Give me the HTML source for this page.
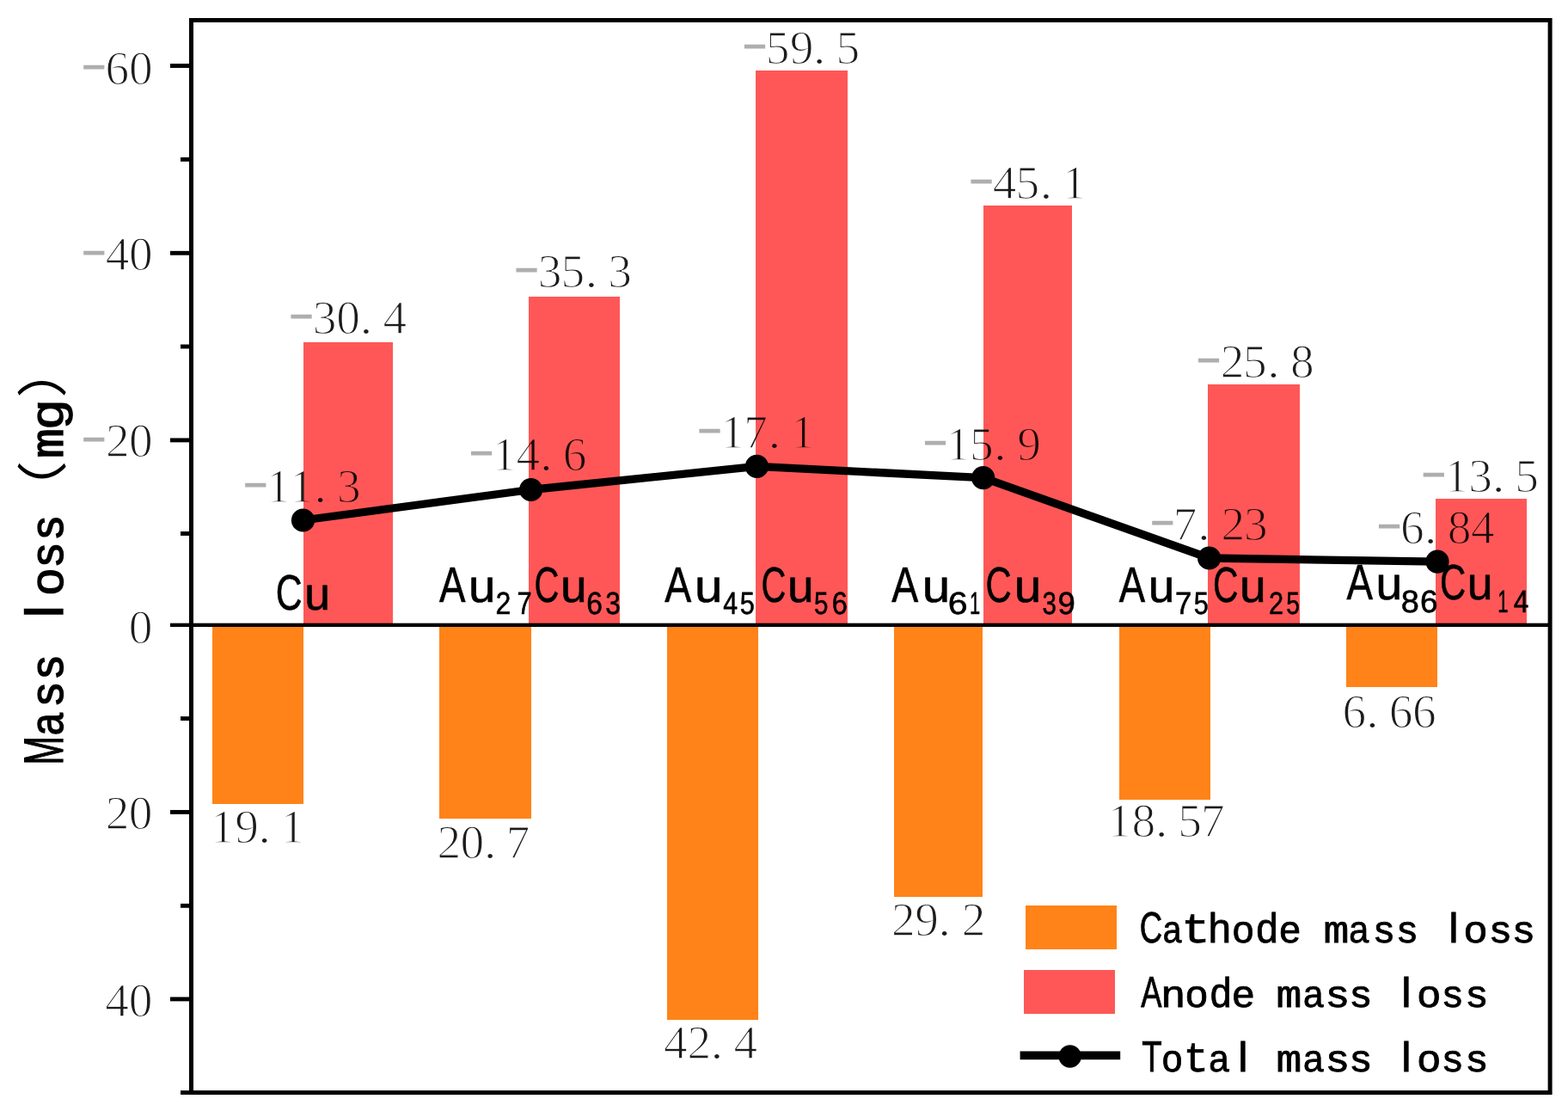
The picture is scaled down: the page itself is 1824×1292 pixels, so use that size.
<!DOCTYPE html>
<html lang="en">
<head>
<meta charset="utf-8">
<title>Mass loss</title>
<style>
html,body{margin:0;padding:0;background:#fff;}
body{width:1824px;height:1292px;overflow:hidden;}
svg{display:block;}
text{text-rendering:geometricPrecision;}
</style>
</head>
<body>
<svg width="1824" height="1292" viewBox="0 0 1824 1292">
<rect width="1824" height="1292" fill="#fff"/>
<g shape-rendering="crispEdges">
<rect x="247.1" y="728" width="106" height="206.8" fill="#FF8318"/>
<rect x="353.1" y="398.2" width="104" height="327.5" fill="#FF5757"/>
<rect x="511.3" y="728" width="106.2" height="223.5" fill="#FF8318"/>
<rect x="615.1" y="345" width="105.9" height="380.7" fill="#FF5757"/>
<rect x="775.9" y="728" width="106" height="458" fill="#FF8318"/>
<rect x="879.3" y="81.6" width="106.3" height="644.1" fill="#FF5757"/>
<rect x="1039.9" y="728" width="103.3" height="314.7" fill="#FF8318"/>
<rect x="1143.9" y="238.5" width="103.1" height="487.2" fill="#FF5757"/>
<rect x="1302" y="728" width="105.7" height="201.8" fill="#FF8318"/>
<rect x="1405" y="446.8" width="106.6" height="278.9" fill="#FF5757"/>
<rect x="1566" y="728" width="106" height="70.6" fill="#FF8318"/>
<rect x="1670" y="579.8" width="106" height="145.9" fill="#FF5757"/>
</g>
<g fill="#000">
<rect x="198" y="724.7" width="1605" height="4.3"/>
</g>
<rect x="222.5" y="23.5" width="1580.6" height="1247.1" fill="none" stroke="#000" stroke-width="5"/>
<g stroke="#000" stroke-width="4.9">
<line x1="198" y1="76.5" x2="221" y2="76.5"/>
<line x1="198" y1="294.3" x2="221" y2="294.3"/>
<line x1="198" y1="511.9" x2="221" y2="511.9"/>
<line x1="198" y1="944.4" x2="221" y2="944.4"/>
<line x1="198" y1="1161.9" x2="221" y2="1161.9"/>
<line x1="210" y1="185.4" x2="221" y2="185.4"/>
<line x1="210" y1="403" x2="221" y2="403"/>
<line x1="210" y1="620.5" x2="221" y2="620.5"/>
<line x1="210" y1="835.6" x2="221" y2="835.6"/>
<line x1="210" y1="1053.3" x2="221" y2="1053.3"/>
<line x1="210" y1="1270.6" x2="221" y2="1270.6"/>
</g>
<polyline points="352.5,605 617.6,569.5 880.4,542.4 1143.7,555.7 1406.6,649 1672,653.2" fill="none" stroke="#000" stroke-width="9.3" stroke-linejoin="round"/>
<circle cx="352.5" cy="605" r="13.6" fill="#000"/>
<circle cx="617.6" cy="569.5" r="13.6" fill="#000"/>
<circle cx="880.4" cy="542.4" r="13.6" fill="#000"/>
<circle cx="1143.7" cy="555.7" r="13.6" fill="#000"/>
<circle cx="1406.6" cy="649" r="13.6" fill="#000"/>
<circle cx="1672" cy="653.2" r="13.6" fill="#000"/>
<g shape-rendering="crispEdges">
<rect x="1193.1" y="1053.0" width="106.1" height="50.6" fill="#FF8318"/>
<rect x="1190.7" y="1128.4" width="106.1" height="50.1" fill="#FF5757"/>
</g>
<line x1="1186.6" y1="1227.3" x2="1303.2" y2="1227.3" stroke="#000" stroke-width="9.8"/>
<circle cx="1244.7" cy="1228.5" r="13.2" fill="#000"/>
<g font-family="'Liberation Serif', serif" font-size="55.4" fill="#1c1c1c" stroke="#fff" stroke-width="1.35" style="white-space:pre;mix-blend-mode:multiply">
<text class="n"><tspan stroke="none" x="93.84" y="93" textLength="31.02" lengthAdjust="spacingAndGlyphs" fill="#aeaeae" font-size="63.16">-</tspan><tspan x="122.38" y="98">6</tspan><tspan x="149.95" y="98">0</tspan></text>
<text class="n"><tspan stroke="none" x="93.84" y="308.6" textLength="31.02" lengthAdjust="spacingAndGlyphs" fill="#aeaeae" font-size="63.16">-</tspan><tspan x="122.64" y="313.6">4</tspan><tspan x="149.95" y="313.6">0</tspan></text>
<text class="n"><tspan stroke="none" x="93.84" y="525.8" textLength="31.02" lengthAdjust="spacingAndGlyphs" fill="#aeaeae" font-size="63.16">-</tspan><tspan x="123.06" y="530.8">2</tspan><tspan x="149.95" y="530.8">0</tspan></text>
<text class="n"><tspan x="149.65" y="748.2">0</tspan></text>
<text class="n"><tspan x="122.76" y="963.8">2</tspan><tspan x="149.65" y="963.8">0</tspan></text>
<text class="n"><tspan x="122.34" y="1181.8">4</tspan><tspan x="149.65" y="1181.8">0</tspan></text>
<text class="n"><tspan stroke="none" x="335.04" y="383.3" textLength="31.02" lengthAdjust="spacingAndGlyphs" fill="#aeaeae" font-size="63.16">-</tspan><tspan x="363.71" y="388.3">3</tspan><tspan x="391.15" y="388.3">0</tspan><tspan x="418.4" y="388.3" textLength="14.81" lengthAdjust="spacingAndGlyphs">.</tspan><tspan x="445.44" y="388.3">4</tspan></text>
<text class="n"><tspan stroke="none" x="597.04" y="329" textLength="31.02" lengthAdjust="spacingAndGlyphs" fill="#aeaeae" font-size="63.16">-</tspan><tspan x="625.71" y="334">3</tspan><tspan x="652.62" y="334">5</tspan><tspan x="680.4" y="334" textLength="14.81" lengthAdjust="spacingAndGlyphs">.</tspan><tspan x="707.31" y="334">3</tspan></text>
<text class="n"><tspan stroke="none" x="862.44" y="69.2" textLength="31.02" lengthAdjust="spacingAndGlyphs" fill="#aeaeae" font-size="63.16">-</tspan><tspan x="890.82" y="74.2">5</tspan><tspan x="918.79" y="74.2">9</tspan><tspan x="945.8" y="74.2" textLength="14.81" lengthAdjust="spacingAndGlyphs">.</tspan><tspan x="972.42" y="74.2">5</tspan></text>
<text class="n"><tspan stroke="none" x="1126.04" y="226" textLength="31.02" lengthAdjust="spacingAndGlyphs" fill="#aeaeae" font-size="63.16">-</tspan><tspan x="1154.84" y="231">4</tspan><tspan x="1181.62" y="231">5</tspan><tspan x="1209.4" y="231" textLength="14.81" lengthAdjust="spacingAndGlyphs">.</tspan><tspan x="1235.78" y="231">1</tspan></text>
<text class="n"><tspan stroke="none" x="1390.54" y="434" textLength="31.02" lengthAdjust="spacingAndGlyphs" fill="#aeaeae" font-size="63.16">-</tspan><tspan x="1419.76" y="439">2</tspan><tspan x="1446.12" y="439">5</tspan><tspan x="1473.9" y="439" textLength="14.81" lengthAdjust="spacingAndGlyphs">.</tspan><tspan x="1501.05" y="439">8</tspan></text>
<text class="n"><tspan stroke="none" x="1652.34" y="566.6" textLength="31.02" lengthAdjust="spacingAndGlyphs" fill="#aeaeae" font-size="63.16">-</tspan><tspan x="1680.48" y="571.6">1</tspan><tspan x="1708.21" y="571.6">3</tspan><tspan x="1735.7" y="571.6" textLength="14.81" lengthAdjust="spacingAndGlyphs">.</tspan><tspan x="1762.32" y="571.6">5</tspan></text>
<text class="n"><tspan stroke="none" x="281.84" y="579" textLength="31.02" lengthAdjust="spacingAndGlyphs" fill="#aeaeae" font-size="63.16">-</tspan><tspan x="309.98" y="584">1</tspan><tspan x="337.18" y="584">1</tspan><tspan x="365.2" y="584" textLength="14.81" lengthAdjust="spacingAndGlyphs">.</tspan><tspan x="392.11" y="584">3</tspan></text>
<text class="n"><tspan stroke="none" x="544.54" y="542.3" textLength="31.02" lengthAdjust="spacingAndGlyphs" fill="#aeaeae" font-size="63.16">-</tspan><tspan x="572.68" y="547.3">1</tspan><tspan x="600.54" y="547.3">4</tspan><tspan x="627.9" y="547.3" textLength="14.81" lengthAdjust="spacingAndGlyphs">.</tspan><tspan x="654.68" y="547.3">6</tspan></text>
<text class="n"><tspan stroke="none" x="810.14" y="516" textLength="31.02" lengthAdjust="spacingAndGlyphs" fill="#aeaeae" font-size="63.16">-</tspan><tspan x="838.28" y="521">1</tspan><tspan x="865.22" y="521">7</tspan><tspan x="893.5" y="521" textLength="14.81" lengthAdjust="spacingAndGlyphs">.</tspan><tspan x="919.88" y="521">1</tspan></text>
<text class="n"><tspan stroke="none" x="1072.54" y="529.9" textLength="31.02" lengthAdjust="spacingAndGlyphs" fill="#aeaeae" font-size="63.16">-</tspan><tspan x="1100.68" y="534.9">1</tspan><tspan x="1128.12" y="534.9">5</tspan><tspan x="1155.9" y="534.9" textLength="14.81" lengthAdjust="spacingAndGlyphs">.</tspan><tspan x="1183.29" y="534.9">9</tspan></text>
<text class="n"><tspan stroke="none" x="1336.84" y="622.5" textLength="31.02" lengthAdjust="spacingAndGlyphs" fill="#aeaeae" font-size="63.16">-</tspan><tspan x="1364.72" y="627.5">7</tspan><tspan x="1393" y="627.5" textLength="14.81" lengthAdjust="spacingAndGlyphs">.</tspan><tspan x="1420.46" y="627.5">2</tspan><tspan x="1447.11" y="627.5">3</tspan></text>
<text class="n"><tspan stroke="none" x="1600.54" y="627.4" textLength="31.02" lengthAdjust="spacingAndGlyphs" fill="#aeaeae" font-size="63.16">-</tspan><tspan x="1629.08" y="632.4">6</tspan><tspan x="1656.7" y="632.4" textLength="14.81" lengthAdjust="spacingAndGlyphs">.</tspan><tspan x="1683.85" y="632.4">8</tspan><tspan x="1710.94" y="632.4">4</tspan></text>
<text class="n"><tspan x="244.98" y="980">1</tspan><tspan x="273.19" y="980">9</tspan><tspan x="300.2" y="980" textLength="14.81" lengthAdjust="spacingAndGlyphs">.</tspan><tspan x="326.58" y="980">1</tspan></text>
<text class="n"><tspan x="508.56" y="997.5">2</tspan><tspan x="535.45" y="997.5">0</tspan><tspan x="562.7" y="997.5" textLength="14.81" lengthAdjust="spacingAndGlyphs">.</tspan><tspan x="588.82" y="997.5">7</tspan></text>
<text class="n"><tspan x="771.94" y="1231.3">4</tspan><tspan x="799.56" y="1231.3">2</tspan><tspan x="826.5" y="1231.3" textLength="14.81" lengthAdjust="spacingAndGlyphs">.</tspan><tspan x="853.54" y="1231.3">4</tspan></text>
<text class="n"><tspan x="1037.06" y="1088.3">2</tspan><tspan x="1064.19" y="1088.3">9</tspan><tspan x="1091.2" y="1088.3" textLength="14.81" lengthAdjust="spacingAndGlyphs">.</tspan><tspan x="1118.66" y="1088.3">2</tspan></text>
<text class="n"><tspan x="1288.48" y="973.3">1</tspan><tspan x="1316.45" y="973.3">8</tspan><tspan x="1343.7" y="973.3" textLength="14.81" lengthAdjust="spacingAndGlyphs">.</tspan><tspan x="1370.32" y="973.3">5</tspan><tspan x="1397.02" y="973.3">7</tspan></text>
<text class="n"><tspan x="1561.38" y="845.8">6</tspan><tspan x="1589" y="845.8" textLength="14.81" lengthAdjust="spacingAndGlyphs">.</tspan><tspan x="1615.78" y="845.8">6</tspan><tspan x="1642.98" y="845.8">6</tspan></text>
</g>
<g font-family="'Liberation Sans', sans-serif" font-size="58" fill="#000" stroke="#000" stroke-width="0.6">
<text><tspan x="320.83" y="709.4" textLength="30.9" lengthAdjust="spacingAndGlyphs" font-size="58">C</tspan><tspan x="354.16" y="709.4" font-size="53.5">u</tspan></text>
<text><tspan x="511.01" y="699.8" textLength="30.48" lengthAdjust="spacingAndGlyphs" font-size="58">A</tspan><tspan x="544.93" y="699.8" textLength="31.42" lengthAdjust="spacingAndGlyphs" font-size="53.5">u</tspan><tspan x="576.39" y="714.2" textLength="17.82" lengthAdjust="spacingAndGlyphs" font-size="36.5">2</tspan><tspan x="601.42" y="714.2" textLength="17.13" lengthAdjust="spacingAndGlyphs" font-size="36.5">7</tspan><tspan x="621.57" y="699.8" textLength="28.85" lengthAdjust="spacingAndGlyphs" font-size="58">C</tspan><tspan x="651.92" y="699.8" textLength="30.64" lengthAdjust="spacingAndGlyphs" font-size="53.5">u</tspan><tspan x="682.29" y="714.2" textLength="18.68" lengthAdjust="spacingAndGlyphs" font-size="36.5">6</tspan><tspan x="704.3" y="714.2" textLength="17.6" lengthAdjust="spacingAndGlyphs" font-size="36.5">3</tspan></text>
<text><tspan x="773.21" y="699.8" textLength="30.98" lengthAdjust="spacingAndGlyphs" font-size="58">A</tspan><tspan x="808.01" y="699.8" textLength="32.47" lengthAdjust="spacingAndGlyphs" font-size="53.5">u</tspan><tspan x="841.3" y="714.2" textLength="16.89" lengthAdjust="spacingAndGlyphs" font-size="36.5">4</tspan><tspan x="860.77" y="714.2" textLength="17.13" lengthAdjust="spacingAndGlyphs" font-size="36.5">5</tspan><tspan x="885.57" y="699.8" textLength="28.85" lengthAdjust="spacingAndGlyphs" font-size="58">C</tspan><tspan x="915.92" y="699.8" textLength="30.64" lengthAdjust="spacingAndGlyphs" font-size="53.5">u</tspan><tspan x="947.12" y="714.2" textLength="16.42" lengthAdjust="spacingAndGlyphs" font-size="36.5">5</tspan><tspan x="967.85" y="714.2" textLength="18.08" lengthAdjust="spacingAndGlyphs" font-size="36.5">6</tspan></text>
<text><tspan x="1037.21" y="699.8" textLength="30.98" lengthAdjust="spacingAndGlyphs" font-size="58">A</tspan><tspan x="1072.71" y="699.8" textLength="32.47" lengthAdjust="spacingAndGlyphs" font-size="53.5">u</tspan><tspan x="1102.71" y="714.2" textLength="22.9" lengthAdjust="spacingAndGlyphs" font-size="36.5">6</tspan><tspan x="1127.91" y="714.2" textLength="12.18" lengthAdjust="spacingAndGlyphs" font-size="36.5">1</tspan><tspan x="1146.38" y="699.8" textLength="30.22" lengthAdjust="spacingAndGlyphs" font-size="58">C</tspan><tspan x="1179.83" y="699.8" textLength="31.42" lengthAdjust="spacingAndGlyphs" font-size="53.5">u</tspan><tspan x="1212.38" y="714.2" textLength="16.42" lengthAdjust="spacingAndGlyphs" font-size="36.5">3</tspan><tspan x="1230.56" y="714.2" font-size="36.5">9</tspan></text>
<text><tspan x="1301.81" y="699.8" textLength="30.38" lengthAdjust="spacingAndGlyphs" font-size="58">A</tspan><tspan x="1335.82" y="699.8" textLength="30.64" lengthAdjust="spacingAndGlyphs" font-size="53.5">u</tspan><tspan x="1367.02" y="714.2" textLength="19.33" lengthAdjust="spacingAndGlyphs" font-size="36.5">7</tspan><tspan x="1388.77" y="714.2" textLength="17.13" lengthAdjust="spacingAndGlyphs" font-size="36.5">5</tspan><tspan x="1411.02" y="699.8" textLength="29.53" lengthAdjust="spacingAndGlyphs" font-size="58">C</tspan><tspan x="1442.02" y="699.8" textLength="30.64" lengthAdjust="spacingAndGlyphs" font-size="53.5">u</tspan><tspan x="1475.95" y="714.2" textLength="17.09" lengthAdjust="spacingAndGlyphs" font-size="36.5">2</tspan><tspan x="1496.37" y="714.2" textLength="15.72" lengthAdjust="spacingAndGlyphs" font-size="36.5">5</tspan></text>
<text><tspan x="1566.41" y="697.4" textLength="30.48" lengthAdjust="spacingAndGlyphs" font-size="58">A</tspan><tspan x="1600.42" y="697.4" textLength="30.64" lengthAdjust="spacingAndGlyphs" font-size="53.5">u</tspan><tspan x="1629.85" y="711.8" textLength="21.1" lengthAdjust="spacingAndGlyphs" font-size="36.5">8</tspan><tspan x="1652.12" y="711.8" textLength="20.61" lengthAdjust="spacingAndGlyphs" font-size="36.5">6</tspan><tspan x="1674.98" y="697.4" textLength="30.22" lengthAdjust="spacingAndGlyphs" font-size="58">C</tspan><tspan x="1706.83" y="697.4" font-size="53.5">u</tspan><tspan x="1742.3" y="711.8" textLength="12.38" lengthAdjust="spacingAndGlyphs" font-size="36.5">1</tspan><tspan x="1760.78" y="711.8" textLength="17.55" lengthAdjust="spacingAndGlyphs" font-size="36.5">4</tspan></text>
</g>
<g font-family="'Liberation Sans', sans-serif" font-size="44.4" fill="#000" stroke="#000" stroke-width="0.8" style="white-space:pre">
<text><tspan x="1325.64" y="1095.8" textLength="26.46" lengthAdjust="spacingAndGlyphs" font-size="50.5">C</tspan><tspan x="1352.75" y="1095.8" textLength="21.65" lengthAdjust="spacingAndGlyphs" font-size="44.4">a</tspan><tspan x="1374.23" y="1095.8" textLength="33.44" lengthAdjust="spacingAndGlyphs" font-size="48.5" font-family="'Liberation Mono', monospace">t</tspan><tspan x="1405.4" y="1095.8" textLength="26.5" lengthAdjust="spacingAndGlyphs" font-size="48.5">h</tspan><tspan x="1433.76" y="1095.8" font-size="44.4">o</tspan><tspan x="1461.17" y="1095.8" textLength="25.6" lengthAdjust="spacingAndGlyphs" font-size="48.5">d</tspan><tspan x="1488.13" y="1095.8" font-size="44.4">e</tspan><tspan x="1516" y="1095.8"> </tspan><tspan x="1539.5" y="1095.8" textLength="29.86" lengthAdjust="spacingAndGlyphs" font-size="44.4" font-family="'Liberation Mono', monospace">m</tspan><tspan x="1569.35" y="1095.8" textLength="22.95" lengthAdjust="spacingAndGlyphs" font-size="44.4">a</tspan><tspan x="1599.06" y="1095.8" font-size="44.4">s</tspan><tspan x="1625.97" y="1095.8" font-size="44.4">s</tspan><tspan x="1654" y="1095.8"> </tspan><tspan x="1685.28" y="1095.8" textLength="11.31" lengthAdjust="spacingAndGlyphs" font-size="48.5">l</tspan><tspan x="1703.3" y="1095.8" textLength="26.5" lengthAdjust="spacingAndGlyphs" font-size="44.4">o</tspan><tspan x="1734.02" y="1095.8" textLength="23.05" lengthAdjust="spacingAndGlyphs" font-size="44.4">s</tspan><tspan x="1760.92" y="1095.8" textLength="23.05" lengthAdjust="spacingAndGlyphs" font-size="44.4">s</tspan></text>
<text><tspan x="1327.33" y="1171.2" textLength="24.24" lengthAdjust="spacingAndGlyphs" font-size="50.5">A</tspan><tspan x="1351.03" y="1171.2" textLength="27.36" lengthAdjust="spacingAndGlyphs" font-size="44.4">n</tspan><tspan x="1379.17" y="1171.2" textLength="25.56" lengthAdjust="spacingAndGlyphs" font-size="44.4">o</tspan><tspan x="1407.72" y="1171.2" textLength="24.86" lengthAdjust="spacingAndGlyphs" font-size="48.5">d</tspan><tspan x="1433.64" y="1171.2" textLength="25.72" lengthAdjust="spacingAndGlyphs" font-size="44.4">e</tspan><tspan x="1462" y="1171.2"> </tspan><tspan x="1484.5" y="1171.2" textLength="29.86" lengthAdjust="spacingAndGlyphs" font-size="44.4" font-family="'Liberation Mono', monospace">m</tspan><tspan x="1515.91" y="1171.2" textLength="23.49" lengthAdjust="spacingAndGlyphs" font-size="44.4">a</tspan><tspan x="1543.96" y="1171.2" textLength="24.08" lengthAdjust="spacingAndGlyphs" font-size="44.4">s</tspan><tspan x="1571.42" y="1171.2" textLength="23.05" lengthAdjust="spacingAndGlyphs" font-size="44.4">s</tspan><tspan x="1600" y="1171.2"> </tspan><tspan x="1630.38" y="1171.2" textLength="11.31" lengthAdjust="spacingAndGlyphs" font-size="48.5">l</tspan><tspan x="1648.9" y="1171.2" textLength="26.5" lengthAdjust="spacingAndGlyphs" font-size="44.4">o</tspan><tspan x="1678.87" y="1171.2" font-size="44.4">s</tspan><tspan x="1706.42" y="1171.2" textLength="23.05" lengthAdjust="spacingAndGlyphs" font-size="44.4">s</tspan></text>
<text><tspan x="1328.14" y="1246.4" textLength="23.44" lengthAdjust="spacingAndGlyphs" font-size="50.5">T</tspan><tspan x="1351.71" y="1246.4" textLength="23.68" lengthAdjust="spacingAndGlyphs" font-size="44.4">o</tspan><tspan x="1376.67" y="1246.4" font-size="48.5" font-family="'Liberation Mono', monospace">t</tspan><tspan x="1406.21" y="1246.4" textLength="23.49" lengthAdjust="spacingAndGlyphs" font-size="44.4">a</tspan><tspan x="1440.38" y="1246.4" textLength="11.31" lengthAdjust="spacingAndGlyphs" font-size="48.5">l</tspan><tspan x="1462" y="1246.4"> </tspan><tspan x="1484.5" y="1246.4" textLength="29.86" lengthAdjust="spacingAndGlyphs" font-size="44.4" font-family="'Liberation Mono', monospace">m</tspan><tspan x="1515.91" y="1246.4" textLength="23.49" lengthAdjust="spacingAndGlyphs" font-size="44.4">a</tspan><tspan x="1543.96" y="1246.4" textLength="24.08" lengthAdjust="spacingAndGlyphs" font-size="44.4">s</tspan><tspan x="1571.42" y="1246.4" textLength="23.05" lengthAdjust="spacingAndGlyphs" font-size="44.4">s</tspan><tspan x="1600" y="1246.4"> </tspan><tspan x="1630.38" y="1246.4" textLength="11.31" lengthAdjust="spacingAndGlyphs" font-size="48.5">l</tspan><tspan x="1648.9" y="1246.4" textLength="26.5" lengthAdjust="spacingAndGlyphs" font-size="44.4">o</tspan><tspan x="1678.87" y="1246.4" font-size="44.4">s</tspan><tspan x="1706.42" y="1246.4" textLength="23.05" lengthAdjust="spacingAndGlyphs" font-size="44.4">s</tspan></text>
</g>
<g transform="translate(73.4,0) rotate(-90)" font-family="'Liberation Sans', 'Noto Sans CJK SC', sans-serif" font-size="54" fill="#000" stroke="#000" stroke-width="1.3" style="white-space:pre">
<text><tspan x="-889.39" y="0" textLength="33.37" lengthAdjust="spacingAndGlyphs" font-size="64.5">M</tspan><tspan x="-855.2" y="0" textLength="26.2" lengthAdjust="spacingAndGlyphs" font-size="54">a</tspan><tspan x="-820.33" y="0" textLength="25.69" lengthAdjust="spacingAndGlyphs" font-size="54">s</tspan><tspan x="-788.73" y="0" textLength="25.69" lengthAdjust="spacingAndGlyphs" font-size="54">s</tspan><tspan x="-752" y="0"> </tspan><tspan x="-718.19" y="0" textLength="14.16" lengthAdjust="spacingAndGlyphs" font-size="61.5">l</tspan><tspan x="-692.12" y="0" textLength="30.74" lengthAdjust="spacingAndGlyphs" font-size="54">o</tspan><tspan x="-658.13" y="0" textLength="25.69" lengthAdjust="spacingAndGlyphs" font-size="54">s</tspan><tspan x="-626.53" y="0" textLength="25.69" lengthAdjust="spacingAndGlyphs" font-size="54">s</tspan><tspan stroke="none" x="-604.16" y="-2" textLength="68.73" lengthAdjust="spacingAndGlyphs" font-size="59">（</tspan><tspan x="-533.12" y="0" textLength="35.01" lengthAdjust="spacingAndGlyphs" font-size="54" font-family="'Liberation Mono', monospace">m</tspan><tspan x="-498.52" y="0" textLength="33.39" lengthAdjust="spacingAndGlyphs" font-size="54">g</tspan><tspan stroke="none" x="-462.78" y="-2" textLength="64.86" lengthAdjust="spacingAndGlyphs" font-size="59">）</tspan></text>
</g>
</svg>
</body>
</html>
